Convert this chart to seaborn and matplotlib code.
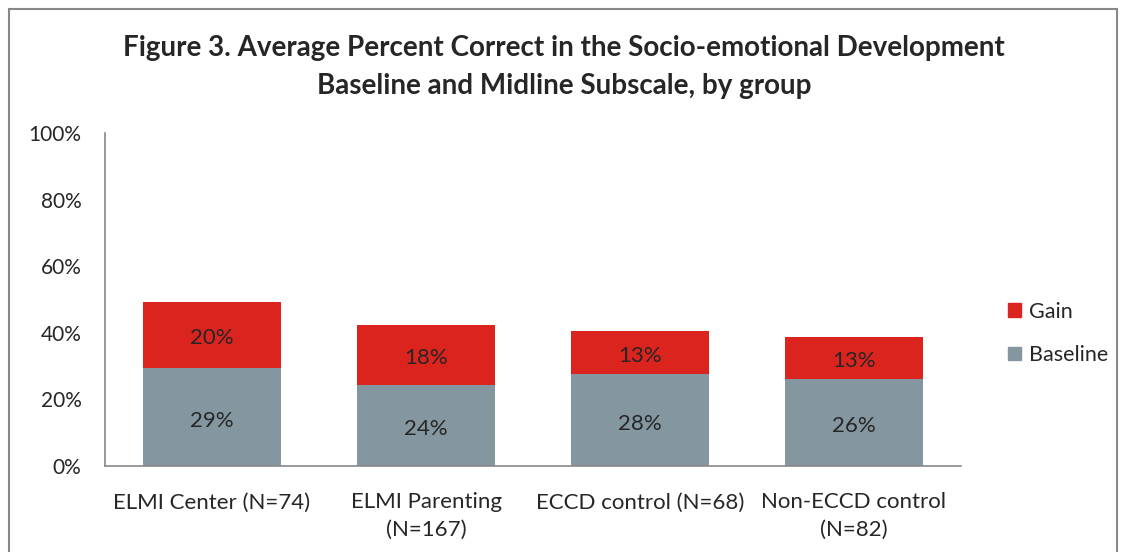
import pandas as pd
import numpy as np
import seaborn as sns
import matplotlib.pyplot as plt
from matplotlib.patches import Rectangle, Patch
from matplotlib.ticker import PercentFormatter

groups = ["ELMI Center (N=74)", "ELMI Parenting\n(N=167)", "ECCD control (N=68)", "Non-ECCD control\n(N=82)"]
baseline = [29.3, 24.3, 27.5, 26.2]
gain = [20.0, 18.0, 13.0, 12.6]
baseline_lbl = ["29%", "24%", "28%", "26%"]
gain_lbl = ["20%", "18%", "13%", "13%"]

c_base = "#8496a0"
c_gain = "#dc241f"

df = pd.DataFrame({"group": groups, "baseline": baseline, "gain": gain})
df["total"] = df["baseline"] + df["gain"]

sns.set_style("white")
plt.rcParams['font.family'] = ['Lato', 'DejaVu Sans']

fig = plt.figure(figsize=(11.22, 5.52), dpi=100)
ax = fig.add_axes([0.0936, 0.1558, 0.7629, 0.6032])

# stacked: draw total in red then baseline over it
sns.barplot(data=df, x="group", y="total", color=c_gain, width=0.645, saturation=1, linewidth=0, ax=ax)
sns.barplot(data=df, x="group", y="baseline", color=c_base, width=0.645, saturation=1, linewidth=0, ax=ax)

for i in range(len(groups)):
    ax.text(i, baseline[i] / 2 - 1, baseline_lbl[i], ha="center", va="center", fontsize=16)
    ax.text(i, baseline[i] + gain[i] / 2 - 1, gain_lbl[i], ha="center", va="center", fontsize=16)

ax.set_ylim(0, 100)
ax.set_xlim(-0.5, 3.5)
ax.set_yticks(np.arange(0, 101, 20))
ax.yaxis.set_major_formatter(PercentFormatter(decimals=0))
ax.set_xlabel("")
ax.set_ylabel("")
ax.tick_params(axis="y", labelsize=15, length=0, pad=17)
ax.tick_params(axis="x", labelsize=16, length=0, pad=19)
for lbl in ax.get_xticklabels():
    lbl.set_linespacing(1.45)
for s in ["top", "right"]:
    ax.spines[s].set_visible(False)
for s in ["left", "bottom"]:
    ax.spines[s].set_color("#888888")
    ax.spines[s].set_linewidth(1.2)

handles = [Patch(color=c_gain, label="Gain"), Patch(color=c_base, label="Baseline")]
fig.legend(handles=handles, loc="center left", bbox_to_anchor=(0.881, 0.396), frameon=False,
           fontsize=15.5, handlelength=0.6, handleheight=0.6, handletextpad=0.4, labelspacing=1.1)

fig.text(0.503, 0.913, "Figure 3. Average Percent Correct in the Socio-emotional Development",
         ha="center", va="center", fontsize=20, fontweight="bold")
fig.text(0.503, 0.845, "Baseline and Midline Subscale, by group",
         ha="center", va="center", fontsize=20, fontweight="bold")

fig.patches.append(Rectangle((9 / 1122, -0.05), (1117 - 9) / 1122, 1 - 9 / 552 + 0.05,
                             transform=fig.transFigure, fill=False, edgecolor="#888888", linewidth=1.5))

fig.savefig("out.png", dpi=100)
